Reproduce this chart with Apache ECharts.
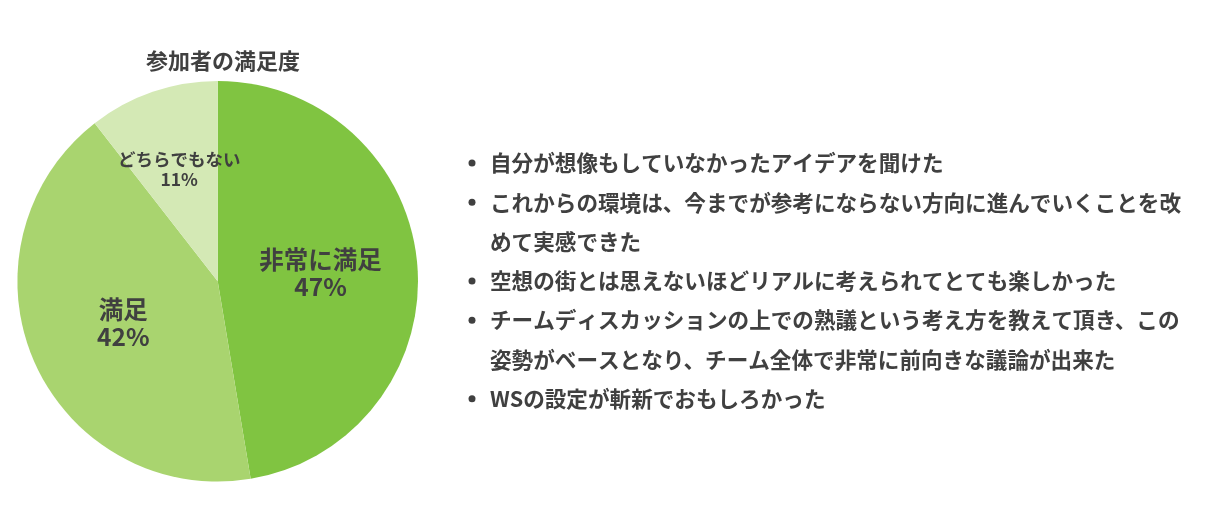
<!DOCTYPE html>
<html>
<head>
<meta charset="utf-8">
<script src="https://cdn.jsdelivr.net/npm/echarts@6/dist/echarts.min.js"></script>
<style>
html,body{margin:0;padding:0;background:#fff;}
#c{width:1224px;height:522px;}
</style>
</head>
<body>
<div id="c"></div>
<script>
var chartTitle = '参加者の満足度';
var categories = ['非常に満足', '満足', 'どちらでもない'];
var values = [9, 8, 2];
var sliceColors = ['#80c441', '#a9d46f', '#d4e9b5'];
var comments = [
  ['自分が想像もしていなかったアイデアを聞けた'],
  ['これからの環境は、今までが参考にならない方向に進んでいくことを改', 'めて実感できた'],
  ['空想の街とは思えないほどリアルに考えられてとても楽しかった'],
  ['チームディスカッションの上での熟議という考え方を教えて頂き、この', '姿勢がベースとなり、チーム全体で非常に前向きな議論が出来た'],
  ['WSの設定が斬新でおもしろかった']
];

var FONT = '"Noto Sans CJK JP", "Noto Sans", sans-serif';
var TXT = '#404040';

var labelStyles = [
  {fontSize: 24.5, lineHeight: 27, offset: [0, 0]},
  {fontSize: 24.5, lineHeight: 27, offset: [0, 0]},
  {fontSize: 17.5, lineHeight: 20, offset: [-5, -14]}
];

var pieData = categories.map(function (name, i) {
  return {
    name: name,
    value: values[i],
    itemStyle: {color: sliceColors[i]},
    label: {
      fontSize: labelStyles[i].fontSize,
      lineHeight: labelStyles[i].lineHeight,
      offset: labelStyles[i].offset
    }
  };
});

var graphics = [];
var lineIdx = 0;
var x0 = 490, y0 = 163, lh = 39.3;
comments.forEach(function (lines) {
  graphics.push({
    type: 'circle',
    shape: {cx: 472, cy: y0 + lineIdx * lh, r: 3.5},
    style: {fill: TXT},
    silent: true
  });
  lines.forEach(function (t) {
    graphics.push({
      type: 'text',
      x: x0,
      y: y0 + lineIdx * lh,
      style: {
        text: t,
        fill: TXT,
        font: 'bold 21.6px ' + FONT,
        textVerticalAlign: 'middle',
        textAlign: 'left'
      },
      silent: true
    });
    lineIdx++;
  });
});

var chart = echarts.init(document.getElementById('c'));
chart.setOption({
  backgroundColor: '#fff',
  animation: false,
  title: {
    text: chartTitle,
    left: 218,
    top: 45,
    textAlign: 'center',
    textStyle: {fontFamily: FONT, fontSize: 22, fontWeight: 'bold', color: TXT}
  },
  graphic: graphics,
  series: [{
    type: 'pie',
    center: [217.7, 281.3],
    radius: 200.3,
    startAngle: 90,
    clockwise: true,
    percentPrecision: 0,
    avoidLabelOverlap: false,
    itemStyle: {borderWidth: 0},
    label: {
      show: true,
      position: 'inside',
      formatter: '{b}\n{d}%',
      color: TXT,
      fontWeight: 'bold',
      fontFamily: FONT
    },
    labelLine: {show: false},
    emphasis: {disabled: true},
    data: pieData
  }]
});
</script>
</body>
</html>
